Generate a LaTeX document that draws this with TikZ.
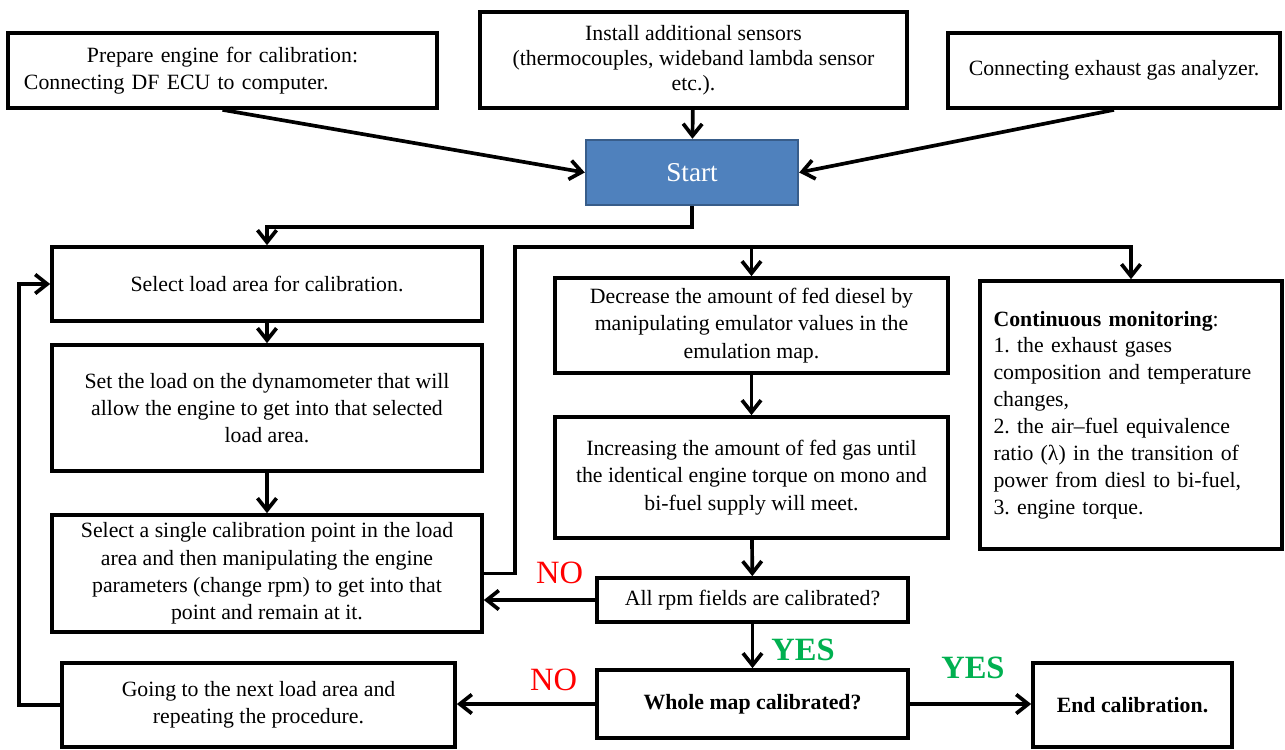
\documentclass[tikz,border=0pt]{standalone}
\usepackage{fontspec}
\setmainfont{Liberation Serif}
\usetikzlibrary{arrows.meta,positioning,calc}
\definecolor{azulstart}{HTML}{4F81BD}
\definecolor{bordestart}{HTML}{385D8A}
\definecolor{verdesi}{HTML}{00B050}
\frenchspacing

\begin{document}
\begin{tikzpicture}[>={Straight Barb[length=2.4mm,width=3.8mm]}]

	\tikzstyle{caja}=[draw, line width=2.1pt, align=center, inner sep=2pt, font=\fontsize{12.4}{15.5}\selectfont]
	\tikzstyle{flecha}=[->, line width=2.1pt]
	\tikzstyle{etiq}=[inner sep=0pt, font=\fontsize{18.5}{20}\selectfont]

	\useasboundingbox (0,0) rectangle (25.7,-14.98);

	\coordinate (prep) at (4.45, -1.41); % PREPARACION
	\coordinate (sens) at (13.87, -1.2); % PREPARACION
	\coordinate (exh) at (22.28, -1.41); % PREPARACION
	\coordinate (start) at (13.84, -3.45); % INICIO
	\coordinate (sel_load) at (5.34, -5.68); % COLUMNA IZQUIERDA
	\coordinate (set_load) at (5.34, -8.16); % COLUMNA IZQUIERDA
	\coordinate (sel_point) at (5.34, -11.47); % COLUMNA IZQUIERDA
	\coordinate (next) at (5.17, -14.1); % COLUMNA IZQUIERDA
	\coordinate (dec) at (15.03, -6.51); % COLUMNA CENTRAL
	\coordinate (inc) at (15.03, -9.55); % COLUMNA CENTRAL
	\coordinate (all_rpm) at (15.05, -12.0); % COLUMNA CENTRAL
	\coordinate (whole) at (15.05, -14.08); % COLUMNA CENTRAL
	\coordinate (end) at (22.65, -14.1); % FIN
	\coordinate (mon) at (22.62, -8.3); % MONITOREO

	\coordinate (bus) at (10.3, -4.94);
	\coordinate (loop_l) at (0.38, -14.1);

	\node[caja, align=left, text width=7.94cm, minimum width=8.58cm, minimum height=1.5cm] (prep) at (prep) {\hspace*{1.26cm}Prepare engine for calibration:\\Connecting DF ECU to computer.};
	\node[caja, minimum width=8.54cm, minimum height=1.92cm, font=\fontsize{12.4}{14.3}\selectfont] (sens) at (sens) {Install additional sensors\\(thermocouples, wideband lambda sensor\\etc.).};
	\node[caja, minimum width=6.64cm, minimum height=1.5cm] (exh) at (exh) {Connecting exhaust gas analyzer.};

	\node[caja, fill=azulstart, draw=bordestart, line width=1.4pt, text=white, minimum width=4.24cm, minimum height=1.3cm, font=\fontsize{15.5}{18}\selectfont] (start) at (start) {Start};

	\node[caja, minimum width=8.6cm, minimum height=1.48cm] (sel_load) at (sel_load) {Select load area for calibration.};
	\node[caja, minimum width=8.6cm, minimum height=2.52cm] (set_load) at (set_load) {Set the load on the dynamometer that will\\allow the engine to get into that selected\\load area.};
	\node[caja, minimum width=8.6cm, minimum height=2.34cm] (sel_point) at (sel_point) {Select a single calibration point in the load\\area and then manipulating the engine\\parameters (change rpm) to get into that\\point and remain at it.};
	\node[caja, minimum width=7.86cm, minimum height=1.68cm] (next) at (next) {Going to the next load area and\\repeating the procedure.};

	\node[caja, minimum width=7.86cm, minimum height=1.9cm] (dec) at (dec) {Decrease the amount of fed diesel by\\manipulating emulator values in the\\emulation map.};
	\node[caja, minimum width=7.86cm, minimum height=2.42cm] (inc) at (inc) {Increasing the amount of fed gas until\\the identical engine torque on mono and\\bi-fuel supply will meet.};
	\node[caja, minimum width=6.22cm, minimum height=0.88cm] (all_rpm) at (all_rpm) {All rpm fields are calibrated?};
	\node[caja, minimum width=6.22cm, minimum height=1.36cm] (whole) at (whole) {\textbf{Whole map calibrated?}};
	\node[caja, minimum width=3.98cm, minimum height=1.68cm] (end) at (end) {\textbf{End calibration.}};

	\node[caja, align=left, text width=5.5cm, minimum width=6.04cm, minimum height=5.36cm, font=\fontsize{12.4}{15.3}\selectfont] (mon) at (mon) {\textbf{Continuous monitoring}:\\1. the exhaust gases\\composition and temperature\\changes,\\2. the air–fuel equivalence\\ratio (λ) in the transition of\\power from diesl to bi-fuel,\\3. engine torque.};

	\draw[flecha] (prep.south) -- (start.west);
	\draw[flecha] (sens) -- (start);
	\draw[flecha] (exh.south) -- (start.east);
	\draw[flecha] (start.south) -- ++(0,-0.42) -| (sel_load.north);

	\draw[flecha] (sel_load) -- (set_load);
	\draw[flecha] (set_load) -- (sel_point);
	\draw[flecha] (sel_point.east) -| (bus) -| (mon.north);
	\draw[flecha] (bus -| dec.north) -- (dec.north);

	\draw[flecha] (dec) -- (inc);
	\draw[flecha] (inc) -- (all_rpm);
	\draw[flecha] (all_rpm.west) -- node[etiq, red, pos=0.32, above=0.28cm] (no_1) {NO} (all_rpm.west -| sel_point.east);
	\draw[flecha] (all_rpm) -- node[etiq, verdesi, pos=0.58, right=0.34cm] (yes_1) {\textbf{YES}} (whole);
	\draw[flecha] (whole.west) -- node[etiq, red, pos=0.3, above=0.22cm] (no_2) {NO} (whole.west -| next.east);
	\draw[flecha] (whole.east) -- node[etiq, verdesi, pos=0.52, above=0.46cm] (yes_2) {\textbf{YES}} (whole.east -| end.west);
	\draw[flecha] (next.west) -- (loop_l) |- (sel_load.west);

\end{tikzpicture}
\end{document}
